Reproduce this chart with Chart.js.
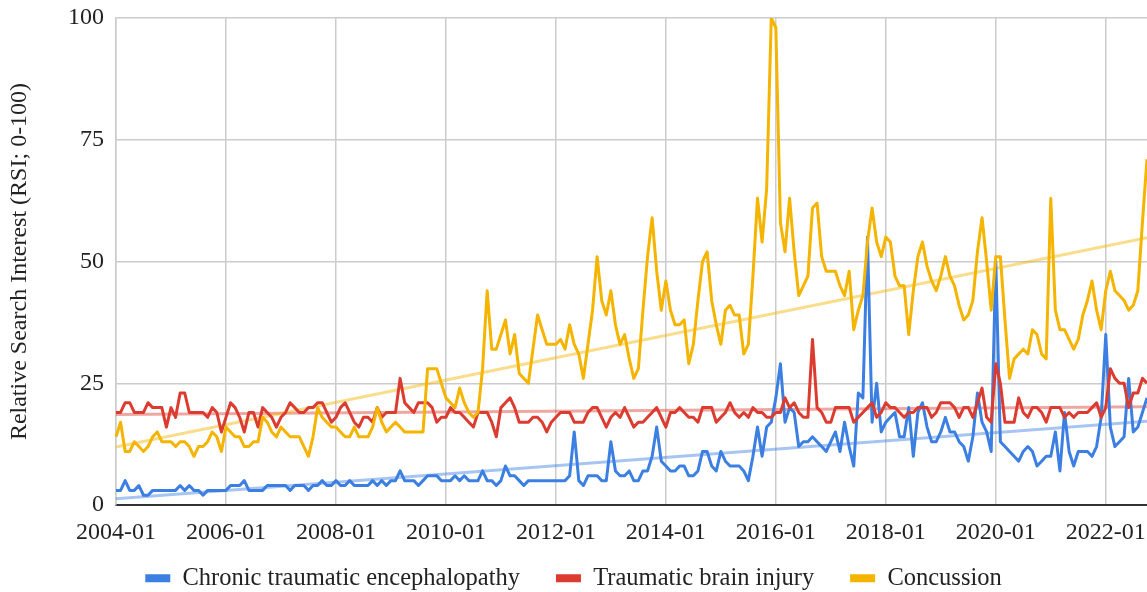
<!DOCTYPE html>
<html>
<head>
<meta charset="utf-8">
<script src="https://cdn.jsdelivr.net/npm/chart.js@4.4.1/dist/chart.umd.min.js"></script>
<style>
html,body{margin:0;padding:0;background:#fff;overflow:hidden}
#wrap{position:relative;width:1147px;height:592px}
</style>
</head>
<body>
<div id="wrap"><canvas id="c" width="1147" height="592"></canvas></div>
<script>
// ---- categories: monthly, 2004-01 .. 2022-10 ----
const firstYear = 2004;
const monthCount = 226;
const months = Array.from({length: monthCount}, (_, i) =>
  `${firstYear + Math.floor(i / 12)}-${String(i % 12 + 1).padStart(2, '0')}`);

// ---- tick labels shown on the x axis ----
const tickLabels = ['2004-01','2006-01','2008-01','2010-01','2012-01','2014-01','2016-01','2018-01','2020-01','2022-01'];
const yTicks = [0, 25, 50, 75, 100];

// ---- series (relative search interest) ----
const cte = [
  3,3,5,3,3,4,2,2,3,3,3,3,
  3,3,4,3,4,3,3,2,3,3,3,3,
  3,4,4,4,5,3,3,3,3,4,4,4,
  4,4,3,4,4,4,3,4,4,5,4,4,
  5,4,4,5,4,4,4,4,5,4,5,4,
  5,5,7,5,5,5,4,5,6,6,6,5,
  5,5,6,5,6,5,5,5,7,5,5,4,
  5,8,6,6,5,4,5,5,5,5,5,5,
  5,5,5,6,15,5,4,6,6,6,5,5,
  13,7,6,6,7,5,5,7,7,10,16,9,
  8,7,7,8,8,6,6,7,11,11,8,7,
  11,9,8,8,8,7,5,10,16,10,16,17,
  22,29,17,20,19,12,13,13,14,13,12,11,
  13,15,11,17,12,8,23,22,55,17,25,15,
  17,18,19,14,14,20,10,19,21,16,13,13,
  15,18,15,15,13,12,9,14,23,17,15,11,
  50,13,12,11,10,9,11,12,11,8,9,10,
  10,15,7,19,11,8,11,11,11,10,12,18,
  35,16,12,13,14,26,15,16,19,22
];
const tbi = [
  19,19,21,21,19,19,19,21,20,20,20,16,
  20,18,23,23,19,19,19,19,18,20,19,15,
  18,21,20,18,15,19,19,16,20,19,18,16,
  18,19,21,20,19,19,20,20,21,21,19,17,
  18,20,21,19,17,16,18,18,17,20,18,19,
  19,19,26,21,20,19,21,21,21,20,17,18,
  18,20,19,19,18,17,16,19,19,19,17,14,
  20,21,22,20,17,17,17,18,18,17,15,17,
  18,19,19,19,17,17,17,19,20,20,18,16,
  18,19,18,20,18,16,17,17,18,19,20,18,
  16,19,19,20,19,18,18,17,20,20,20,17,
  18,19,21,19,18,19,18,20,19,19,18,18,
  19,19,22,20,21,19,18,18,34,20,19,17,
  17,20,20,20,20,17,18,19,20,21,18,19,
  21,20,20,19,18,19,19,20,20,20,18,19,
  21,21,21,20,18,20,20,18,21,24,18,17,
  29,25,17,17,17,22,19,18,20,20,19,17,
  20,20,20,18,19,18,19,19,19,20,21,18,
  20,28,26,25,25,20,23,23,26,25
];
const concussion = [
  14,17,11,11,13,12,11,12,14,15,13,13,
  13,12,13,13,12,10,12,12,13,15,14,11,
  16,15,14,14,12,12,13,13,18,17,15,14,
  16,15,14,14,14,12,10,14,20,18,17,16,
  16,15,14,14,16,14,14,14,16,20,17,15,
  16,17,16,15,15,15,15,15,28,28,28,25,
  22,21,20,24,21,19,18,19,28,44,32,32,
  35,38,31,35,27,26,25,32,39,36,33,33,
  33,34,32,37,33,31,26,33,40,51,42,39,
  44,37,33,35,30,26,28,40,51,59,48,40,
  46,40,37,37,38,29,33,42,50,52,42,37,
  33,40,41,39,39,31,33,47,63,54,65,100,
  98,58,52,63,52,43,45,47,61,62,51,48,
  48,48,45,43,48,36,40,43,54,61,54,51,
  55,54,47,45,45,35,44,51,54,49,46,44,
  47,51,47,45,41,38,39,42,52,59,50,40,
  51,51,38,26,30,31,32,31,36,35,31,30,
  63,40,36,36,34,32,34,39,42,46,40,36,
  44,48,44,43,42,40,41,44,58,71
];

// ---- linear trend lines: [value at first month, value at last month] ----
const cteTrend = [1.3, 17.2];
const tbiTrend = [18.6, 20.2];
const concussionTrend = [11.9, 54.9];

const seriesNames = ['Chronic traumatic encephalopathy', 'Traumatic brain injury', 'Concussion'];
const colors = ['#3c7fe2', '#dc3b30', '#f5b400'];
const trendColors = ['rgba(60,127,226,0.45)', 'rgba(220,59,48,0.45)', 'rgba(245,180,0,0.45)'];

function trendData(t) {
  return [{x: months[0], y: t[0]}, {x: months[months.length - 1], y: t[1]}];
}

Chart.defaults.font.family = "'Liberation Serif', 'Times New Roman', serif";

const lineBase = {pointRadius: 0, pointHoverRadius: 0, borderWidth: 3, tension: 0, borderJoinStyle: 'round', fill: false};

// place the legend row where the reference has it (row centre y = 578)
const legendPlacer = {
  id: 'legendPlacer',
  afterLayout(chart) {
    const lg = chart.legend;
    if (!lg) return;
    lg.top = 530;
    lg.bottom = 620;
    lg.height = lg.bottom - lg.top;
  }
};

new Chart(document.getElementById('c'), {
  type: 'line',
  data: {
    labels: months,
    datasets: [
      {...lineBase, label: seriesNames[0], data: cte, borderColor: colors[0], backgroundColor: colors[0], order: 3},
      {...lineBase, label: seriesNames[1], data: tbi, borderColor: colors[1], backgroundColor: colors[1], order: 2},
      {...lineBase, label: seriesNames[2], data: concussion, borderColor: colors[2], backgroundColor: colors[2], order: 1},
      {...lineBase, label: 'Trend CTE', data: trendData(cteTrend), borderColor: trendColors[0], backgroundColor: trendColors[0], order: 6},
      {...lineBase, label: 'Trend TBI', data: trendData(tbiTrend), borderColor: trendColors[1], backgroundColor: trendColors[1], order: 5},
      {...lineBase, label: 'Trend Concussion', data: trendData(concussionTrend), borderColor: trendColors[2], backgroundColor: trendColors[2], order: 4}
    ]
  },
  plugins: [legendPlacer],
  options: {
    responsive: false,
    animation: false,
    events: [],
    layout: {padding: {top: 18, right: 0, bottom: 0, left: 0}},
    plugins: {
      tooltip: {enabled: false},
      legend: {
        position: 'bottom',
        maxHeight: 42,
        labels: {
          boxWidth: 25,
          boxHeight: 8,
          padding: 36,
          color: '#222',
          font: {size: 24.5},
          filter: (item) => item.datasetIndex < 3,
          sort: (a, b) => a.datasetIndex - b.datasetIndex,
          generateLabels: (chart) =>
            Chart.defaults.plugins.legend.labels.generateLabels(chart).map(l => ({...l, lineWidth: 0}))
        }
      }
    },
    scales: {
      x: {
        type: 'category',
        offset: false,
        grid: {
          drawTicks: true,
          tickLength: 13,
          tickColor: 'rgba(0,0,0,0)',
          lineWidth: 1.5,
          color: (ctx) => (ctx.index !== undefined && tickLabels.includes(months[ctx.index])) ? '#cccccc' : 'rgba(0,0,0,0)'
        },
        border: {color: '#333333', width: 2},
        ticks: {
          autoSkip: false,
          maxRotation: 0,
          minRotation: 0,
          padding: 0,
          color: '#222',
          font: {size: 24},
          callback: function (value) {
            const l = this.getLabelForValue(value);
            return tickLabels.includes(l) ? l : '';
          }
        },
        afterFit: (scale) => { scale.height = 45; }
      },
      y: {
        min: yTicks[0],
        max: yTicks[yTicks.length - 1],
        grid: {drawTicks: true, tickLength: 12, tickColor: 'rgba(0,0,0,0)', lineWidth: 1.5, color: '#cccccc'},
        border: {color: '#cccccc', width: 1.5},
        ticks: {
          stepSize: 25,
          padding: 0,
          color: '#222',
          font: {size: 24}
        },
        title: {
          display: true,
          text: 'Relative Search Interest (RSI; 0-100)',
          color: '#222',
          font: {size: 24},
          padding: {top: 5, bottom: 0}
        },
        afterFit: (scale) => { scale.width = 116; }
      }
    }
  }
});
</script>
</body>
</html>
